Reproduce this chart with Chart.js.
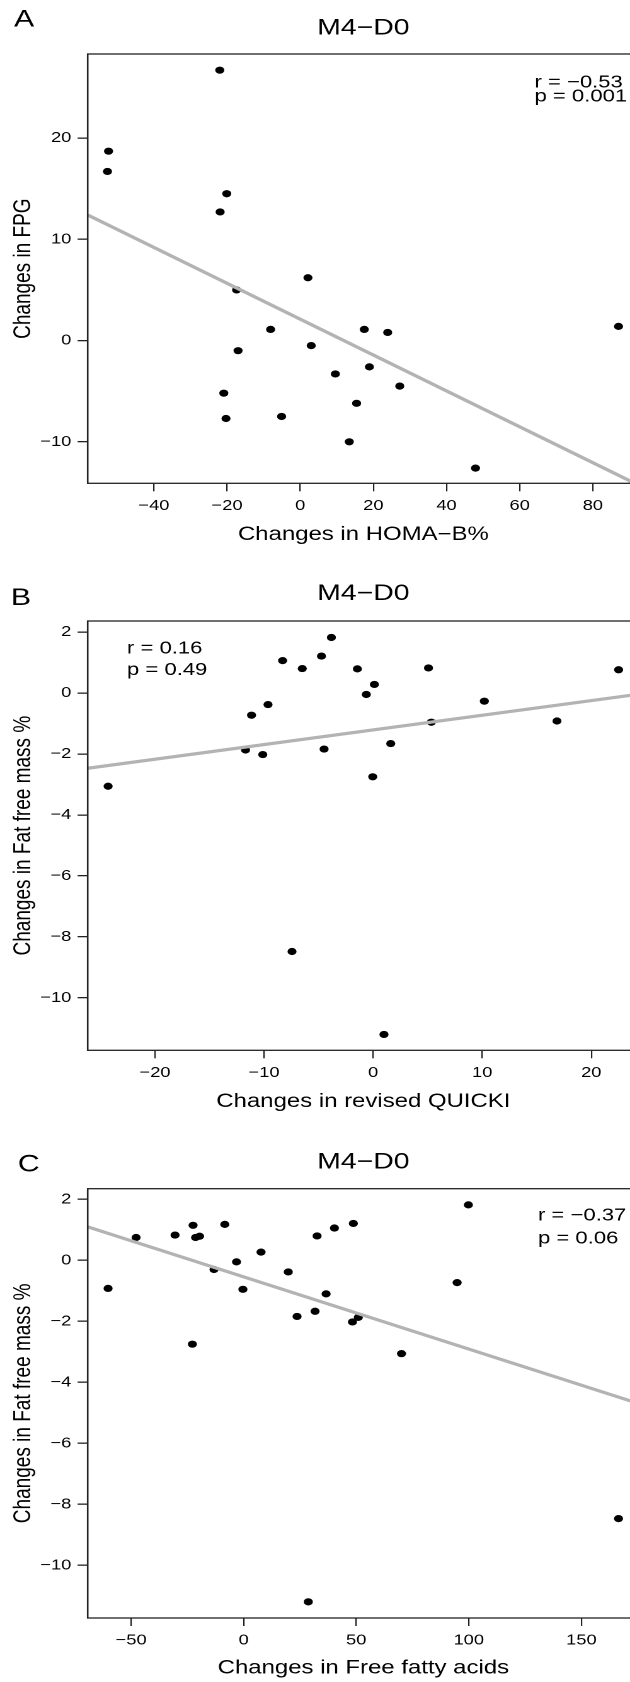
<!DOCTYPE html>
<html>
<head>
<meta charset="utf-8">
<script src="https://cdn.jsdelivr.net/npm/chart.js@4.4.1/dist/chart.umd.min.js"></script>
<style>
  html, body { margin: 0; padding: 0; background: #fff; width: 630px; height: 1682px; overflow: hidden; }
  .panel { position: absolute; left: 0; }
  /* the source figure is stretched sideways, so the canvas is too */
  .panel canvas { transform: scaleX(1.26); transform-origin: 0 0; }
</style>
</head>
<body>
<div class="panel" style="top:0px"><canvas id="chartA" width="524" height="560"></canvas></div>
<div class="panel" style="top:560px"><canvas id="chartB" width="524" height="565"></canvas></div>
<div class="panel" style="top:1125px"><canvas id="chartC" width="524" height="557"></canvas></div>
<script>
// ── Data ────────────────────────────────────────────────────────────────
// A: HOMA-B% vs FPG
const homaB = [-22.0, -52.4, -52.7, -20.1, -21.9, 2.1, -17.4, 87.0, -8.1, 17.5, 23.9,
               -17.0, 3.0, 9.6, 18.9, -20.9, 27.2, -20.3, -5.1, 15.4, 13.4, 47.9];
const fpgA  = [26.7, 18.7, 16.7, 14.5, 12.7, 6.2, 5.0, 1.4, 1.1, 1.1, 0.8,
               -1.0, -0.5, -3.3, -2.6, -5.2, -4.5, -7.7, -7.5, -6.2, -10.0, -12.6];
const fitAX = [-58.1, 92.6];
const fitAY = [12.4, -14.3];

// B: revised QUICKI vs fat free mass %
const quickiB = [-24.3, -3.83, -4.74, -8.3, -6.5, -1.45, 5.07, 22.5, 0.11, -0.63, -9.64,
                 10.19, -11.15, 5.33, 16.85, 1.61, -11.7, -4.5, -10.12, -0.04, -7.44, 0.99];
const ffmB    = [-3.06, 1.82, 1.21, 1.06, 0.80, 0.79, 0.82, 0.76, 0.28, -0.05, -0.38,
                 -0.27, -0.73, -0.96, -0.92, -1.66, -1.87, -1.84, -2.02, -2.75, -8.48, -11.2];
const fitBX = [-26.17, 24.37];
const fitBY = [-2.47, -0.04];

// C: free fatty acids vs fat free mass %
const ffaC = [-60.25, -47.8, -30.5, -22.5, -21.4, -19.6, -8.4, 99.8, 48.7, 40.3, 32.6, 7.7, -3.2,
              -13.2, 19.8, 94.8, -0.36, 36.6, 31.7, 23.7, 50.9, 48.3, -22.8, 70.1, 166.5, 28.7];
const ffmC = [-0.92, 0.75, 0.83, 1.15, 0.75, 0.79, 1.18, 1.82, 1.21, 1.06, 0.80, 0.27, -0.05,
              -0.30, -0.38, -0.73, -0.95, -1.10, -1.67, -1.84, -1.87, -2.02, -2.75, -3.06, -8.47, -11.2];
const fitCX = [-69.3, 175.6];
const fitCY = [1.10, -4.70];

// tick values
const ticksAX = [-40, -20, 0, 20, 40, 60, 80];
const ticksAY = [-10, 0, 10, 20];
const ticksBX = [-20, -10, 0, 10, 20];
const ticksBY = [-10, -8, -6, -4, -2, 0, 2];
const ticksCX = [-50, 0, 50, 100, 150];
const ticksCY = [-10, -8, -6, -4, -2, 0, 2];

// ── Style ───────────────────────────────────────────────────────────────
const S = 1.26;                       // horizontal stretch of the canvas
const FONT = "'Liberation Sans', Arial, Helvetica, sans-serif";
const INK = '#000';
const AXIS = '#222';
const FIT = '#b3b3b3';

const zip = (xs, ys) => xs.map((x, i) => ({ x, y: ys[i] }));
const minus = v => (v < 0 ? '\u2212' + (-v) : String(v));

// ── Text / frame plugin ─────────────────────────────────────────────────
const frameText = {
  id: 'frameText',
  afterDraw(chart, args, o) {
    const { ctx, chartArea: a } = chart;
    ctx.save();
    ctx.strokeStyle = AXIS;
    ctx.lineWidth = 1.3;
    ctx.strokeRect(a.left, a.top, a.right - a.left, a.bottom - a.top);

    ctx.fillStyle = INK;
    ctx.textBaseline = 'alphabetic';
    ctx.textAlign = 'center';
    ctx.font = `22.5px ${FONT}`;
    ctx.fillText('M4\u2212D0', (a.left + a.right) / 2, o.titleY);

    ctx.textAlign = 'left';
    ctx.font = `24px ${FONT}`;
    ctx.fillText(o.letter, o.letterX / S, o.letterY);

    ctx.font = `17.5px ${FONT}`;
    o.stats.forEach((t, i) => ctx.fillText(t, o.statsX / S, o.statsY[i]));
    ctx.restore();
  }
};

// ── Factory ─────────────────────────────────────────────────────────────
function scatterPanel(id, p) {
  const W = 524;
  const H = document.getElementById(id).height;
  const xAxisH = 64;
  return new Chart(document.getElementById(id), {
    type: 'scatter',
    data: {
      datasets: [
        {
          data: p.fit,
          showLine: true,
          borderColor: FIT,
          borderWidth: 3.2,
          pointRadius: 0,
          clip: 0,
          order: 0,
        },
        {
          data: p.points,
          pointRadius: 3.6,
          pointBackgroundColor: '#000',
          pointBorderWidth: 0,
          order: 1,
        },
      ],
    },
    options: {
      responsive: false,
      animation: false,
      devicePixelRatio: 2,
      layout: {
        padding: { top: p.top, bottom: H - p.bottom - xAxisH, left: 0, right: W - 639 / S },
      },
      plugins: {
        legend: { display: false },
        tooltip: { enabled: false },
        frameText: p.text,
      },
      scales: {
        x: {
          type: 'linear',
          position: 'bottom',
          min: p.xRange[0],
          max: p.xRange[1],
          afterBuildTicks: s => { s.ticks = p.xTicks.map(value => ({ value })); },
          afterFit: s => { s.height = xAxisH; },
          grid: { drawOnChartArea: false, drawTicks: true, tickLength: 8, color: AXIS, lineWidth: 1.1 },
          border: { display: false },
          ticks: {
            autoSkip: false, maxRotation: 0, padding: 6, color: INK,
            font: { family: FONT, size: 14.5 }, callback: minus,
          },
          title: {
            display: true, text: p.xTitle, color: INK,
            font: { family: FONT, size: 19 }, padding: { top: 0, bottom: p.xTitlePad },
          },
        },
        y: {
          type: 'linear',
          position: 'left',
          min: p.yRange[0],
          max: p.yRange[1],
          afterBuildTicks: s => { s.ticks = p.yTicks.map(value => ({ value })); },
          afterFit: s => { s.width = 87.7 / S; },
          grid: { drawOnChartArea: false, drawTicks: true, tickLength: 8, color: AXIS, lineWidth: 1.3 },
          border: { display: false },
          ticks: {
            autoSkip: false, padding: 5, color: INK,
            font: { family: FONT, size: 14.5 }, callback: minus,
          },
          title: {
            display: true, text: p.yTitle, color: INK,
            font: { family: FONT, size: 19 }, padding: { top: 7.35, bottom: 0 },
          },
        },
      },
    },
    plugins: [frameText],
  });
}

scatterPanel('chartA', {
  points: zip(homaB, fpgA),
  fit: zip(fitAX, fitAY),
  xRange: [-58.1, 92.6], yRange: [-14.1, 28.3],
  xTicks: ticksAX, yTicks: ticksAY,
  top: 54, bottom: 483.3,
  xTitle: 'Changes in HOMA\u2212B%', xTitlePad: 0.9,
  yTitle: 'Changes in FPG',
  text: {
    titleY: 34.3, letter: 'A', letterX: 14, letterY: 26.7,
    stats: ['r = \u22120.53', 'p = 0.001'], statsX: 534.5, statsY: [87.3, 101.7],
  },
});

scatterPanel('chartB', {
  points: zip(quickiB, ffmB),
  fit: zip(fitBX, fitBY),
  xRange: [-26.17, 24.37], yRange: [-11.72, 2.36],
  xTicks: ticksBX, yTicks: ticksBY,
  top: 61, bottom: 490.3,
  xTitle: 'Changes in revised QUICKI', xTitlePad: 1.2,
  yTitle: 'Changes in Fat free mass %',
  text: {
    titleY: 40, letter: 'B', letterX: 10.9, letterY: 45,
    stats: ['r = 0.16', 'p = 0.49'], statsX: 127, statsY: [93.3, 115],
  },
});

scatterPanel('chartC', {
  points: zip(ffaC, ffmC),
  fit: zip(fitCX, fitCY),
  xRange: [-69.3, 175.6], yRange: [-11.73, 2.35],
  xTicks: ticksCX, yTicks: ticksCY,
  top: 63.7, bottom: 493,
  xTitle: 'Changes in Free fatty acids', xTitlePad: 2.3,
  yTitle: 'Changes in Fat free mass %',
  text: {
    titleY: 43.3, letter: 'C', letterX: 17.8, letterY: 46.7,
    stats: ['r = \u22120.37', 'p = 0.06'], statsX: 538, statsY: [95.7, 118.3],
  },
});
</script>
</body>
</html>
